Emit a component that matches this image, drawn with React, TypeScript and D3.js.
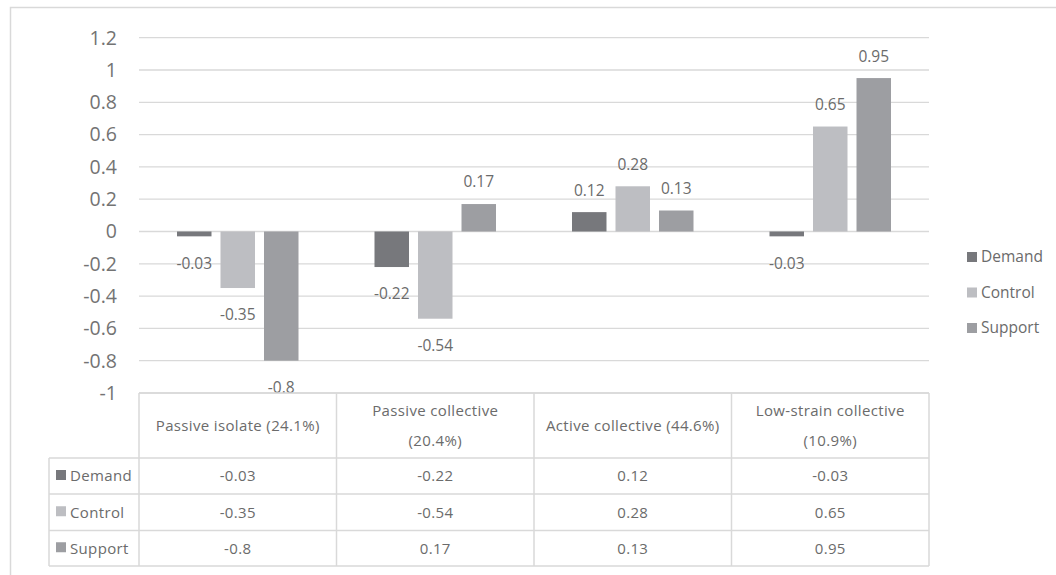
import React from 'react';
import * as d3 from 'd3';

// chart data
const categories = [
  'Passive isolate (24.1%)',
  'Passive collective (20.4%)',
  'Active collective (44.6%)',
  'Low-strain collective (10.9%)',
];
// how the header cells break the category names
const categoryLines = [
  ['Passive isolate (24.1%)'],
  ['Passive collective', '(20.4%)'],
  ['Active collective (44.6%)'],
  ['Low-strain collective', '(10.9%)'],
];
const seriesNames = ['Demand', 'Control', 'Support'];
const demand = [-0.03, -0.22, 0.12, -0.03];
const control = [-0.35, -0.54, 0.28, 0.65];
const support = [-0.8, 0.17, 0.13, 0.95];
const yTicks = [1.2, 1, 0.8, 0.6, 0.4, 0.2, 0, -0.2, -0.4, -0.6, -0.8, -1];

const seriesValues = [demand, control, support];
const colors = ['#77787c', '#bdbec2', '#9d9ea2'];

const W = 1056;
const H = 575;
const FONT = '"Open Sans", "Noto Sans", sans-serif';
const TEXT = '#6b6b6b';
const GRID = '#d9d9d9';

const App: React.FC = () => {
  const plotLeft = 139;
  const plotRight = 929;

  const y = d3.scaleLinear().domain([-1, 1.2]).range([393, 37.7]);
  const x0 = d3.scaleBand<string>().domain(categories).range([plotLeft, plotRight]);
  const groupW = 121.5;
  const x1 = d3.scaleBand<string>().domain(seriesNames).range([0, groupW]).paddingInner(0.207);
  const groupOffset = (x0.bandwidth() - groupW) / 2;

  const fmt = (v: number) => `${+v.toFixed(2)}`;

  // table rows
  const headerTop = 393;
  const headerBottom = 458;
  const rowEdges = [458, 494, 530.5, 566];
  const rowLeft = 49;
  const tableFont = 15;
  const tableSpacing = 0.35;

  return (
    <div style={{ position: 'absolute', left: 0, top: 0 }}>
      <svg width={W} height={H} style={{ display: 'block', background: '#fff' }} fontFamily={FONT}>
        {/* chart frame */}
        <rect x={10.5} y={7.5} width={1100} height={700} fill="none" stroke={GRID} strokeWidth={1.5} />

        {/* gridlines */}
        {yTicks.map((t) => (
          <line
            key={'g' + t}
            x1={plotLeft}
            x2={plotRight}
            y1={y(t)}
            y2={y(t)}
            stroke={GRID}
            strokeWidth={1.3}
          />
        ))}

        {/* y axis labels */}
        {yTicks.map((t) => (
          <text
            key={'t' + t}
            x={117}
            y={y(t)}
            dy="0.35em"
            textAnchor="end"
            fontSize={19.5}
            fill="#737373"
          >
            {fmt(t)}
          </text>
        ))}

        {/* bars */}
        {categories.map((c, ci) =>
          seriesNames.map((s, si) => {
            const v = seriesValues[si][ci];
            const bx = (x0(c) as number) + groupOffset + (x1(s) as number);
            const top = Math.min(y(v), y(0));
            const h = Math.abs(y(v) - y(0));
            return (
              <g key={c + s}>
                <rect x={bx} y={top} width={x1.bandwidth()} height={h} fill={colors[si]} />
                <text
                  x={bx + x1.bandwidth() / 2}
                  y={v >= 0 ? y(v) - 22 : y(v) + 27}
                  dy="0.35em"
                  textAnchor="middle"
                  fontSize={15.5}
                  fill={TEXT}
                >
                  {fmt(v)}
                </text>
              </g>
            );
          }),
        )}

        {/* data table: header */}
        {categories.map((c, ci) => {
          const cx = (x0(c) as number) + x0.bandwidth() / 2;
          const lines = categoryLines[ci];
          const mid = (headerTop + headerBottom) / 2;
          return lines.map((ln, li) => (
            <text
              key={c + li}
              x={cx}
              y={mid + (li - (lines.length - 1) / 2) * 30}
              dy="0.35em"
              textAnchor="middle"
              fontSize={tableFont}
              letterSpacing={tableSpacing}
              fill={TEXT}
            >
              {ln}
            </text>
          ));
        })}

        {/* data table: rows */}
        {seriesNames.map((s, si) => {
          const cy = (rowEdges[si] + rowEdges[si + 1]) / 2;
          return (
            <g key={'row' + s}>
              <rect x={56} y={cy - 6} width={10} height={10} fill={colors[si]} />
              <text x={70} y={cy} dy="0.35em" fontSize={tableFont} letterSpacing={tableSpacing} fill={TEXT}>
                {s}
              </text>
              {categories.map((c, ci) => (
                <text
                  key={c}
                  x={(x0(c) as number) + x0.bandwidth() / 2}
                  y={cy}
                  dy="0.35em"
                  textAnchor="middle"
                  fontSize={tableFont}
                  letterSpacing={tableSpacing}
                  fill={TEXT}
                >
                  {fmt(seriesValues[si][ci])}
                </text>
              ))}
            </g>
          );
        })}

        {/* table grid */}
        <line x1={plotLeft} x2={plotRight} y1={headerTop} y2={headerTop} stroke={GRID} strokeWidth={1.5} />
        {rowEdges.map((e) => (
          <line key={'re' + e} x1={rowLeft} x2={plotRight} y1={e} y2={e} stroke={GRID} strokeWidth={1.5} />
        ))}
        {[...categories.map((c) => x0(c) as number), plotRight].map((vx) => (
          <line key={'cv' + vx} x1={vx} x2={vx} y1={headerTop} y2={rowEdges[3]} stroke={GRID} strokeWidth={1.5} />
        ))}
        <line x1={rowLeft} x2={rowLeft} y1={headerBottom} y2={rowEdges[3]} stroke={GRID} strokeWidth={1.5} />

        {/* legend */}
        {seriesNames.map((s, si) => {
          const ly = 257 + si * 35.5;
          return (
            <g key={'lg' + s}>
              <rect x={967} y={ly - 5} width={10} height={10} fill={colors[si]} />
              <text x={981} y={ly} dy="0.35em" fontSize={15.5} fill={TEXT}>
                {s}
              </text>
            </g>
          );
        })}
      </svg>
    </div>
  );
};

export default App;
